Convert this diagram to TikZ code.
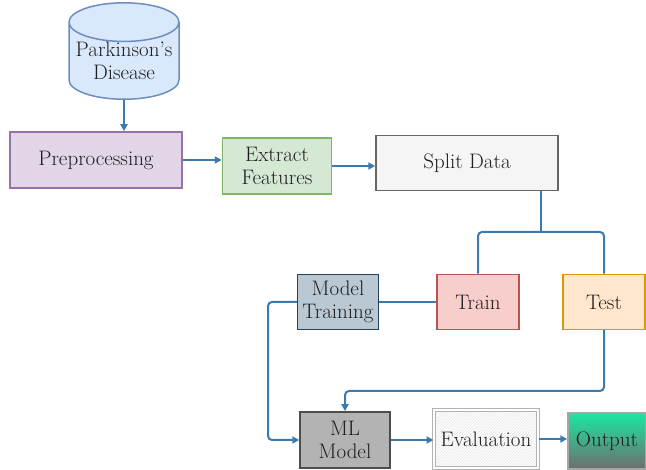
\documentclass[tikz,border=0pt]{standalone}
\usetikzlibrary{arrows.meta,shapes.geometric,patterns}

\definecolor{linkblue}{HTML}{3C7AAE}
\definecolor{txtgray}{HTML}{1E1E1E}
\definecolor{dbfill}{HTML}{DAE8FC}
\definecolor{dbline}{HTML}{6C8EBF}
\definecolor{prefill}{HTML}{E1D5E7}
\definecolor{preline}{HTML}{9673A6}
\definecolor{featfill}{HTML}{D5E8D4}
\definecolor{featline}{HTML}{82B366}
\definecolor{splitfill}{HTML}{F5F5F5}
\definecolor{splitline}{HTML}{666666}
\definecolor{trfill}{HTML}{F8CECC}
\definecolor{trline}{HTML}{B85450}
\definecolor{tefill}{HTML}{FFE6CC}
\definecolor{teline}{HTML}{D79B00}
\definecolor{mtfill}{HTML}{BAC8D3}
\definecolor{mtline}{HTML}{23445D}
\definecolor{mlfill}{HTML}{B3B3B3}
\definecolor{mlline}{HTML}{4D4D4D}
\definecolor{outtop}{HTML}{1CE6A2}
\definecolor{outbot}{HTML}{6E6E6E}

\begin{document}
\begin{tikzpicture}[x=1pt, y=-1pt, align=center,
  box/.style={draw, line width=1.5pt, text=txtgray, inner sep=0pt,
    font=\fontsize{21}{23}\selectfont},
  link/.style={draw=linkblue, line width=2pt, rounded corners=4pt},
  tip/.style={-{Triangle[length=7pt,width=7pt]}}]

\useasboundingbox (0,0) rectangle (646,470);

% Data source
\node[box, cylinder, shape border rotate=90, aspect=0.4,
  draw=dbline, fill=dbfill, anchor=bottom,
  minimum width=110pt, minimum height=83pt] (pd) at (124,100) {Parkinson's\\Disease};

% Top row
\node[box, draw=preline, fill=prefill, minimum width=172pt, minimum height=56pt] (pre) at (96,160) {Preprocessing};
\node[box, draw=featline, fill=featfill, minimum width=109pt, minimum height=56pt] (feat) at (277,166) {Extract\\Features};
\node[box, draw=splitline, fill=splitfill, minimum width=182pt, minimum height=55pt] (split) at (467,163) {Split Data};

% Middle row
\node[box, draw=mtline, fill=mtfill, minimum width=81pt, minimum height=55pt] (train) at (338,302) {Model\\Training};
\node[box, draw=trline, fill=trfill, minimum width=82pt, minimum height=55pt] (tr) at (478,302) {Train};
\node[box, draw=teline, fill=tefill, minimum width=82pt, minimum height=55pt] (te) at (604,302) {Test};

% Bottom row
\node[box, draw=mlline, fill=mlfill, minimum width=90pt, minimum height=56pt] (ml) at (345,440) {ML\\Model};
\node[box, draw=gray!60, double, double distance=2pt, line width=1pt,
  preaction={fill=white}, pattern=north east lines, pattern color=gray!20,
  minimum width=104pt, minimum height=58pt] (eval) at (486,439) {Evaluation};
\node[box, draw=gray!70, top color=outtop, bottom color=outbot,
  minimum width=78pt, minimum height=56pt] (out) at (607,441) {Output};

% Links
\coordinate (fork) at (541,232);
\draw[link, tip] (pd.bottom) -- (pre.north -| pd.bottom);
\draw[link, tip] (pre.east) -- (pre.east -| feat.west);
\draw[link, tip] (feat.east) -- (feat.east -| split.west);
\draw[link] (split.south -| fork) -- (fork);
\draw[link] (tr.north) |- (fork) -| (te.north);
\draw[link] (tr.west) -- (train.east);
\draw[link, tip] (train.west) -- (268,302) |- (ml.west);
\draw[link, tip] (te.south) |- (345,391) -- (ml.north);
\draw[link, tip] (ml.east) -- (ml.east -| eval.west);
\draw[link, tip] (eval.east) -- (eval.east -| out.west);

\end{tikzpicture}
\end{document}
